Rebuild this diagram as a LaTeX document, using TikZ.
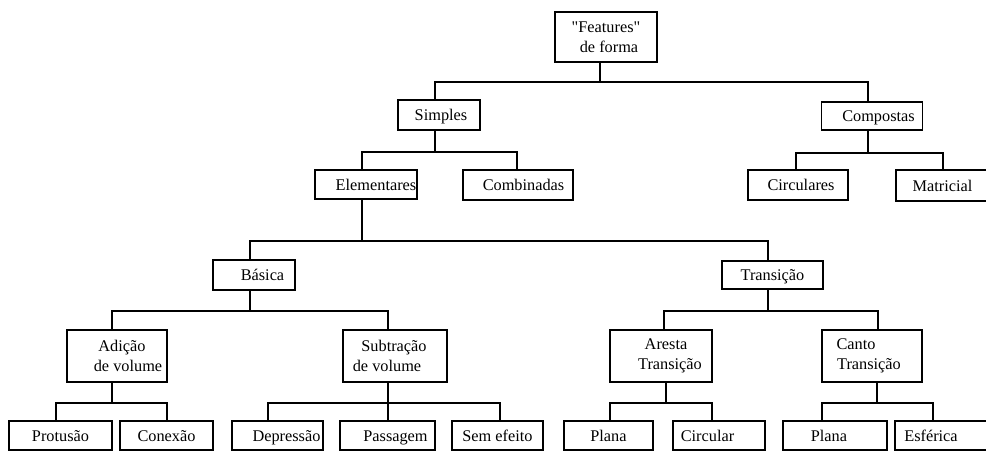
\documentclass[tikz,border=0pt]{standalone}
\usepackage{fontspec}
\setmainfont{Liberation Serif}[Ligatures=TeXOff]
% shift a piece of text sideways without changing its measured width
\newcommand{\tshift}[2]{\hspace*{#1}#2\hspace*{-#1}}
\begin{document}
\begin{tikzpicture}[x=1pt,y=-1pt,
  box/.style={draw=black, line width=1.8pt, inner sep=0pt, align=center,
    font=\fontsize{16.3}{19.5}\selectfont},
  one/.style={box, text height=11.5pt, text depth=0pt},
  sz/.style 2 args={minimum width=#1pt, minimum height=#2pt},
  link/.style={line width=2pt}]
\useasboundingbox (0,0) rectangle (986,451);
\clip (0,0) rectangle (986,451);
\fill[white] (0,0) rectangle (986,451);

% level 0
\node[box, sz={102}{50}] (feat) at (606,37) {"Features"\\\tshift{3pt}{de forma}};

% level 1
\node[one, sz={82}{30}]  (simples)   at (439,115)   {\tshift{2pt}{Simples}};
\node[one, sz={101}{28}] (compostas) at (872,116)   {\tshift{6.5pt}{Compostas}};

% level 2
\node[one, sz={102}{29}] (elem) at (366,184.5)   {\tshift{10pt}{Elementares}};
\node[one, sz={110}{30}] (comb) at (518,185)     {\tshift{5.5pt}{Combinadas}};
\node[one, sz={100}{30}] (circ) at (798,185)     {\tshift{3pt}{Circulares}};
\node[one, sz={93}{31}]  (matr) at (942.5,185.5) {Matricial};

% level 3
\node[one, sz={82}{30}]  (basica) at (254,275)   {\tshift{8.5pt}{Básica}};
\node[one, sz={101}{28}] (trans)  at (772.5,275) {Transição};

% level 4
\node[box, sz={100}{52}] (adicao) at (117,356) {\tshift{5pt}{Adição}\\\tshift{11pt}{de volume}};
\node[box, sz={104}{52}] (subtr)  at (395,356) {\tshift{-1pt}{Subtração}\\\tshift{-8pt}{de volume}};
\node[box, sz={102}{52}] (aresta) at (661,356) {\tshift{5pt}{Aresta}\\\tshift{9pt}{Transição}};
\node[box, sz={100}{52}] (canto)  at (872,356) {\tshift{-16pt}{Canto}\\\tshift{-3pt}{Transição}};

% level 5
\node[one, sz={103}{29}] (protusao) at (60.5,435.5)  {Protusão};
\node[one, sz={93}{29}]  (conexao)  at (166.5,435.5) {Conexão};
\node[one, sz={91}{29}]  (depr)     at (277.5,435.5) {\tshift{9pt}{Depressão}};
\node[one, sz={95}{29}]  (pass)     at (387.5,435.5) {\tshift{8pt}{Passagem}};
\node[one, sz={91}{29}]  (sem)      at (497.5,435.5) {Sem efeito};
\node[one, sz={89}{29}]  (plana1)   at (608.5,435.5) {Plana};
\node[one, sz={92}{29}]  (circular) at (719,435.5)   {\tshift{-11.5pt}{Circular}};
\node[one, sz={104}{29}] (plana2)   at (835,435.5)   {\tshift{-6pt}{Plana}};
\node[one, sz={95}{29}]  (esf)      at (942.5,435.5) {\tshift{-11.5pt}{Esférica}};

% connectors: stem down from the parent, bar across, drop to each child
\foreach \c/\s in {simples/-4, compostas/-4}
  \draw[link] ([xshift=-6pt]feat.south) -- ++(0,19) -| ([xshift=\s pt]\c.north);
\foreach \c/\s in {elem/-4, comb/-1}
  \draw[link] ([xshift=-4pt]simples.south) -- ++(0,21) -| ([xshift=\s pt]\c.north);
\foreach \c/\s in {circ/-2, matr/0}
  \draw[link] ([xshift=-4pt]compostas.south) -- ++(0,22) -| ([xshift=\s pt]\c.north);
\foreach \c/\s in {basica/-4, trans/-5}
  \draw[link] ([xshift=-4pt]elem.south) -- ++(0,41) -| ([xshift=\s pt]\c.north);
\foreach \c/\s in {adicao/-5, subtr/-7}
  \draw[link] ([xshift=-4pt]basica.south) -- ++(0,20) -| ([xshift=\s pt]\c.north);
\foreach \c/\s in {aresta/3, canto/6}
  \draw[link] ([xshift=-5pt]trans.south) -- ++(0,21) -| ([xshift=\s pt]\c.north);
\foreach \c/\s in {protusao/-4.5, conexao/0}
  \draw[link] ([xshift=-5pt]adicao.south) -- ++(0,20) -| ([xshift=\s pt]\c.north);
\foreach \c/\s in {depr/-9.5, pass/0, sem/2.5}
  \draw[link] ([xshift=-7pt]subtr.south) -- ++(0,20) -| ([xshift=\s pt]\c.north);
\foreach \c/\s in {plana1/1.5, circular/-7}
  \draw[link] ([xshift=5pt]aresta.south) -- ++(0,20) -| ([xshift=\s pt]\c.north);
\foreach \c/\s in {plana2/-13, esf/-9.5}
  \draw[link] ([xshift=5pt]canto.south) -- ++(0,20) -| ([xshift=\s pt]\c.north);
\end{tikzpicture}
\end{document}
